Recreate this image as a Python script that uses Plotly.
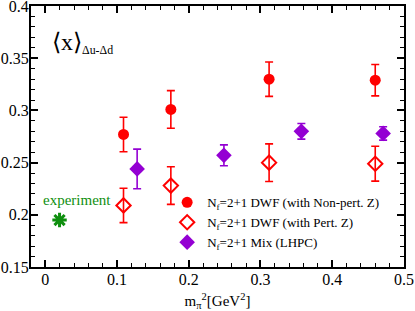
import plotly.graph_objects as go

# Data
x_np = [0.109, 0.175, 0.312, 0.46]
y_np = [0.277, 0.301, 0.330, 0.329]
e_np = [0.0165, 0.018, 0.0165, 0.015]

x_p = [0.109, 0.175, 0.312, 0.46]
y_p = [0.209, 0.228, 0.250, 0.249]
e_p = [0.0165, 0.018, 0.018, 0.0167]

x_lhpc = [0.128, 0.249, 0.357, 0.471]
y_lhpc = [0.244, 0.257, 0.280, 0.278]
e_lhpc = [0.019, 0.010, 0.0075, 0.0064]

x_exp = [0.0198]
y_exp = [0.195]

x_ticks = [0, 0.1, 0.2, 0.3, 0.4, 0.5]
x_ticklabels = ["0", "0.1", "0.2", "0.3", "0.4", "0.5"]
y_ticks = [0.15, 0.2, 0.25, 0.3, 0.35, 0.4]
y_ticklabels = ["0.15", "0.2", "0.25", "0.3", "0.35", "0.4"]

RED = "#ff0000"
PURPLE = "#9400d3"
GREEN = "#0f8f0f"
FONT = "Liberation Serif, Times New Roman, serif"

fig = go.Figure()

fig.add_trace(go.Scatter(
    x=x_np, y=y_np, mode="markers",
    name="N<sub>f</sub>=2+1 DWF (with Non-pert. Z)",
    marker=dict(symbol="circle", size=11, color=RED),
    error_y=dict(type="data", array=e_np, color=RED, thickness=1.6, width=4),
))
fig.add_trace(go.Scatter(
    x=x_p, y=y_p, mode="markers",
    name="N<sub>f</sub>=2+1 DWF (with Pert. Z)",
    marker=dict(symbol="diamond-open", size=11, color=RED, line=dict(width=2, color=RED)),
    error_y=dict(type="data", array=e_p, color=RED, thickness=1.6, width=4),
))
fig.add_trace(go.Scatter(
    x=x_lhpc, y=y_lhpc, mode="markers",
    name="N<sub>f</sub>=2+1 Mix (LHPC)",
    marker=dict(symbol="diamond", size=12, color=PURPLE),
    error_y=dict(type="data", array=e_lhpc, color=PURPLE, thickness=1.6, width=4),
))
fig.add_trace(go.Scatter(
    x=x_exp, y=y_exp, mode="markers", showlegend=False,
    marker=dict(symbol="asterisk-open", size=12, color=GREEN, line=dict(width=3, color=GREEN)),
))

fig.add_annotation(x=x_exp[0], y=y_exp[0], xref="x", yref="y", text="experiment",
                   showarrow=False, yshift=20, xshift=17,
                   font=dict(family=FONT, size=15, color=GREEN))

fig.add_annotation(x=0.051, y=0.92, xref="paper", yref="paper",
                   xanchor="left", yanchor="top", showarrow=False,
                   text="<span style='font-size:24px'>⟨x⟩</span><sub>Δu-Δd</sub>",
                   font=dict(family=FONT, size=17, color="black"))

axis_common = dict(
    showline=True, linecolor="black", linewidth=2, mirror="allticks",
    ticks="inside", ticklen=7, tickwidth=1.6, tickcolor="black",
    showgrid=False, zeroline=False, automargin=False,
    ticklabeloverflow="allow",
    tickfont=dict(family=FONT, size=16, color="black"),
)

fig.update_xaxes(
    range=[-0.02, 0.5001], tickvals=x_ticks, ticktext=x_ticklabels,
    ticklabelstandoff=-3,
    minor=dict(dtick=0.02, tick0=0, ticks="inside", ticklen=4, tickwidth=1.3, tickcolor="black"),
    title=dict(text="m<sub>π</sub><sup>2</sup>[GeV<sup>2</sup>]",
               font=dict(family=FONT, size=15, color="black")),
    **axis_common,
)
fig.update_yaxes(
    range=[0.15, 0.4001], tickvals=y_ticks, ticktext=y_ticklabels,
    ticklabelstandoff=-3,
    minor=dict(dtick=0.01, tick0=0.15, ticks="inside", ticklen=4, tickwidth=1.3, tickcolor="black"),
    **axis_common,
)

fig.update_layout(
    width=415, height=311,
    margin=dict(l=31, r=11, t=6, b=44, autoexpand=False),
    paper_bgcolor="white", plot_bgcolor="white",
    font=dict(family=FONT, size=13, color="black"),
    showlegend=True,
    legend=dict(x=0.365, y=0.305, xanchor="left", yanchor="top",
                bgcolor="rgba(0,0,0,0)", font=dict(family=FONT, size=13, color="black"),
                tracegroupgap=0, itemwidth=30),
)

fig.write_html("out.html", config={"displayModeBar": False},
               post_script="document.body.style.margin='0';document.body.style.padding='0';document.body.style.overflow='hidden';")
